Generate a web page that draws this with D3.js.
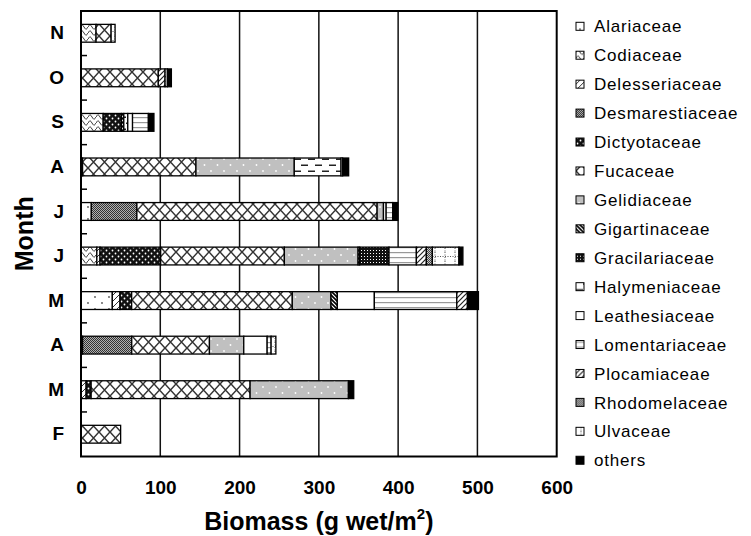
<!DOCTYPE html>
<html><head><meta charset="utf-8">
<script src="https://cdn.jsdelivr.net/npm/d3@7"></script>
<style>body{margin:0;background:#fff} svg{display:block}</style>
</head><body><svg id="c" width="751" height="536"></svg>
<script>
// Months bottom (F) to top (N)
const months = ["F","M","A","M","J","J","A","S","O","N"];
const families = ["Alariaceae","Codiaceae","Delesseriaceae","Desmarestiaceae","Dictyotaceae","Fucaceae","Gelidiaceae","Gigartinaceae","Gracilariaceae","Halymeniaceae","Leathesiaceae","Lomentariaceae","Plocamiaceae","Rhodomelaceae","Ulvaceae","others"];
//                      F    M     A     M      J     J     A    S    O     N
const alariaceae     = [0,   0,    2,    39.5,  0,    13,   0,   0,   0,    0];
const codiaceae      = [0,   0,    0,    0,     20,   0,    2,   28,  0,    19];
const delesseriaceae = [0,   6.5,  0,    9.7,   4,    0,    0,   0,   0,    0];
const desmarestiaceae= [0,   0,    62,   0,     0,    57.5, 0,   0,   0,    0];
const dictyotaceae   = [0,   6.3,  0,    14.7,  76.5, 0,    0,   23,  0,    0];
const fucaceae       = [50,  200.5,98,   202.6, 156,  303,  143, 0,   97.5, 19];
const gelidiaceae    = [0,   124,  43.3, 48.8,  93,   8,    124, 0,   0,    0];
const gigartinaceae  = [0,   0,    0,    8,     2,    0,    0,   3,   0,    0];
const gracilariaceae = [0,   0,    0,    0,     37,   0,    0,   0,   0,    0];
const halymeniaceae  = [0,   0,    0,    0,     0,    0,    59,  5,   0,    0];
const leathesiaceae  = [0,   0,    29.5, 46.7,  0,    3.4,  2,   6,   0,    0];
const lomentariaceae = [0,   0,    5,    104,   34.5, 8.3,  0,   20,  0,    0];
const plocamiaceae   = [0,   0,    0,    13.4,  12.6, 0,    0,   0,   8.5,  0];
const rhodomelaceae  = [0,   0,    0,    0,     7.6,  0,    0,   0,   0,    0];
const ulvaceae       = [0,   0,    6,    0,     33.5, 0,    0,   0,   3,    5];
const others         = [0,   6.7,  0,    13.9,  5,    6.3,  7.6, 7,   5,    0];
const xTicks = [0,100,200,300,400,500,600];

const seriesArrays = [alariaceae,codiaceae,delesseriaceae,desmarestiaceae,dictyotaceae,fucaceae,gelidiaceae,gigartinaceae,gracilariaceae,halymeniaceae,leathesiaceae,lomentariaceae,plocamiaceae,rhodomelaceae,ulvaceae,others];
const rows = months.map((m,i)=>{const r={idx:i}; families.forEach((f,j)=>r[f]=seriesArrays[j][i]); return r;});

const svg = d3.select("#c");
const FONT = "'Liberation Sans', Arial, Helvetica, sans-serif";
const L=81, T=11, W=475.7, H=445.5;

const defs = svg.append("defs");
function pat(id,w,h,bg){const p=defs.append("pattern").attr("id",id).attr("patternUnits","userSpaceOnUse").attr("width",w).attr("height",h); if(bg) p.append("rect").attr("width",w).attr("height",h).attr("fill",bg); return p;}
let p;
p=pat("p0",14,12,"#fff"); [[4,3],[11,9]].forEach(c=>p.append("circle").attr("cx",c[0]).attr("cy",c[1]).attr("r",0.9).attr("fill","#555"));
p=pat("p1",8,6,"#fff"); p.append("path").attr("d","M0,3 C2,0 2,0 4,3 S6,6 8,3").attr("fill","none").attr("stroke","#333").attr("stroke-width",1);
p=pat("p2",6,6,"#fff"); p.append("path").attr("d","M0,6 L6,0 M-1.5,1.5 L1.5,-1.5 M4.5,7.5 L7.5,4.5").attr("stroke","#333").attr("stroke-width",1);
p=pat("p3",2,2,"#b0b0b0"); p.append("rect").attr("width",1).attr("height",1).attr("fill","#333"); p.append("rect").attr("x",1).attr("y",1).attr("width",1).attr("height",1).attr("fill","#333");
p=pat("p4",6,6,"#111"); [[1.5,1.5],[4.5,4.5]].forEach(c=>p.append("circle").attr("cx",c[0]).attr("cy",c[1]).attr("r",0.9).attr("fill","#fff"));
p=pat("p5",11,12,"#fff"); p.append("path").attr("d","M0,0 L11,12 M11,0 L0,12").attr("stroke","#333").attr("stroke-width",1.5);
p=pat("p6",13,12,"#c0c0c0"); [[3,3],[9.5,9]].forEach(c=>p.append("circle").attr("cx",c[0]).attr("cy",c[1]).attr("r",0.9).attr("fill","#fff"));
p=pat("p7",4,4,"#fff"); p.append("path").attr("d","M0,0 L4,4 M-1,3 L1,5 M3,-1 L5,1").attr("stroke","#000").attr("stroke-width",1.6);
p=pat("p8",3,3,"#111"); p.append("rect").attr("x",1).attr("y",1).attr("width",1).attr("height",1).attr("fill","#fff");
p=pat("p9",14,12,"#fff"); p.append("rect").attr("x",0).attr("y",2.5).attr("width",7).attr("height",1.5).attr("fill","#222"); p.append("rect").attr("x",7).attr("y",8.5).attr("width",7).attr("height",1.5).attr("fill","#222");
p=pat("p10",4,4,"#fff");
p=pat("p11",5,5,"#fff"); p.append("rect").attr("y",2).attr("width",5).attr("height",1.2).attr("fill","#999");
p=pat("p12",5,5,"#fff"); p.append("path").attr("d","M0,5 L5,0 M-1,1 L1,-1 M4,6 L6,4").attr("stroke","#222").attr("stroke-width",1.2);
p=pat("p13",2,2,"#c8c8c8"); p.append("rect").attr("width",1).attr("height",1).attr("fill","#444"); p.append("rect").attr("x",1).attr("y",1).attr("width",1).attr("height",1).attr("fill","#444");
p=pat("p14",10,9,"#fff"); p.append("path").attr("d","M5,0 V9 M0,4.5 H10").attr("stroke","#555").attr("stroke-width",1).attr("stroke-dasharray","1,1.5");
p=pat("p15",4,4,"#000");
const fillOf = f => `url(#p${families.indexOf(f)})`;

const x = d3.scaleLinear().domain([0,600]).range([L,L+W]);
const y = d3.scaleBand().domain(d3.range(months.length).reverse()).range([T,T+H]).paddingInner(0.6).paddingOuter(0.3);

// gridlines
svg.append("g").selectAll("line").data(xTicks.filter(v=>v>0&&v<600)).join("line")
  .attr("x1",d=>x(d)).attr("x2",d=>x(d)).attr("y1",T).attr("y2",T+H)
  .attr("stroke","#111").attr("stroke-width",1.5);

// bars
const stack = d3.stack().keys(families)(rows);
svg.append("g").selectAll("g").data(stack).join("g")
  .attr("fill",s=>fillOf(s.key))
  .selectAll("rect").data(s=>s.filter(d=>d[1]-d[0]>0)).join("rect")
  .attr("x",d=>x(d[0])).attr("width",d=>x(d[1])-x(d[0]))
  .attr("y",d=>y(d.data.idx)).attr("height",y.bandwidth())
  .attr("stroke","#000").attr("stroke-width",1.3);

// frame
svg.append("rect").attr("x",L).attr("y",T).attr("width",W).attr("height",H)
  .attr("fill","none").attr("stroke","#000").attr("stroke-width",2);

// category boundary ticks (inside)
const step = y.step();
svg.append("g").selectAll("line").data(d3.range(1,months.length)).join("line")
  .attr("x1",L).attr("x2",L+6)
  .attr("y1",d=>y(d)+y.bandwidth()+(step-y.bandwidth())/2)
  .attr("y2",d=>y(d)+y.bandwidth()+(step-y.bandwidth())/2)
  .attr("stroke","#000").attr("stroke-width",1.5);

// x axis
const gx = svg.append("g").attr("transform",`translate(0,${T+H})`)
  .call(d3.axisBottom(x).tickValues(xTicks).tickSize(0).tickPadding(24));
gx.select(".domain").remove();
gx.selectAll("text").attr("font-family",FONT).attr("font-size",19).attr("font-weight","bold").attr("fill","#000");

// y axis
const gy = svg.append("g").attr("transform",`translate(${L},0)`)
  .call(d3.axisLeft(y).tickFormat(i=>months[i]).tickSize(0).tickPadding(17));
gy.select(".domain").remove();
gy.selectAll("text").attr("font-family",FONT).attr("font-size",19).attr("font-weight","bold").attr("fill","#000");

// axis titles
const xt = svg.append("text").attr("x",L+W/2).attr("y",530).attr("text-anchor","middle")
  .attr("font-family",FONT).attr("font-size",25).attr("font-weight","bold");
xt.append("tspan").text("Biomass (g wet/m");
xt.append("tspan").attr("font-size",15).attr("dy",-11).text("2");
xt.append("tspan").attr("dy",11).text(")");
svg.append("text").attr("transform",`translate(33,${T+H/2}) rotate(-90)`).attr("text-anchor","middle")
  .attr("font-family",FONT).attr("font-size",25).attr("font-weight","bold").text("Month");

// legend
const lg = svg.append("g").selectAll("g").data(families).join("g")
  .attr("transform",(d,i)=>`translate(576,${26.3+i*28.93})`);
lg.append("rect").attr("x",0).attr("y",-4).attr("width",8).attr("height",8)
  .attr("fill",d=>fillOf(d)).attr("stroke","#000").attr("stroke-width",1);
lg.append("text").attr("x",18).attr("dy","0.36em").attr("font-family",FONT).attr("font-size",17)
  .attr("letter-spacing",0.8).text(d=>d);
</script></body></html>
